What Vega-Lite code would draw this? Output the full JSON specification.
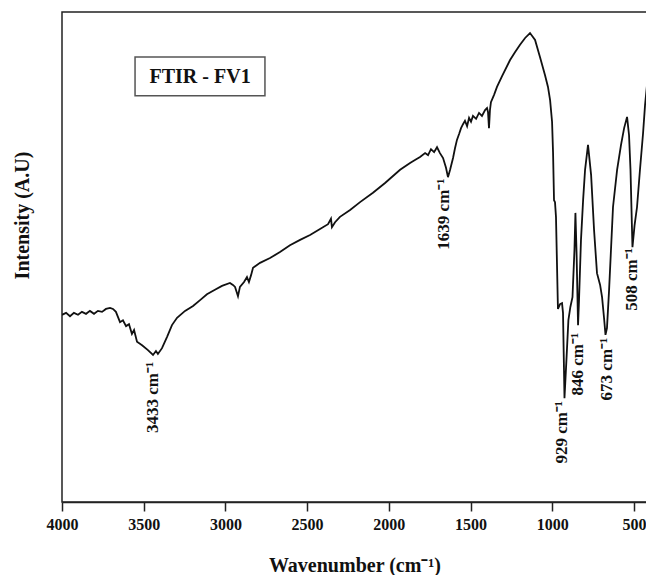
{
  "$schema": "https://vega.github.io/schema/vega-lite/v6.json",
  "autosize": {"type": "none"},
  "padding": {"left": 62, "top": 12, "right": 0, "bottom": 73},
  "width": 585,
  "height": 490,
  "config": {
    "font": "Liberation Serif",
    "view": {"stroke": "#222222", "strokeWidth": 1.5},
    "background": "white"
  },
  "datasets": {
    "spectrum": [
      {"wn": 4000, "v": 38.2}, {"wn": 3975, "v": 38.6}, {"wn": 3951, "v": 37.9}, {"wn": 3927, "v": 38.6},
      {"wn": 3902, "v": 38.2}, {"wn": 3878, "v": 38.8}, {"wn": 3853, "v": 38.4}, {"wn": 3829, "v": 39.0},
      {"wn": 3804, "v": 38.4}, {"wn": 3780, "v": 39.0}, {"wn": 3755, "v": 38.8}, {"wn": 3731, "v": 39.4},
      {"wn": 3706, "v": 39.6}, {"wn": 3688, "v": 39.4}, {"wn": 3670, "v": 38.8}, {"wn": 3645, "v": 36.7},
      {"wn": 3627, "v": 37.1}, {"wn": 3608, "v": 35.9}, {"wn": 3590, "v": 36.3}, {"wn": 3572, "v": 34.3},
      {"wn": 3559, "v": 35.1}, {"wn": 3541, "v": 32.7}, {"wn": 3510, "v": 32.0}, {"wn": 3474, "v": 31.0},
      {"wn": 3443, "v": 30.0}, {"wn": 3425, "v": 30.8}, {"wn": 3413, "v": 30.2}, {"wn": 3388, "v": 31.4},
      {"wn": 3357, "v": 33.7}, {"wn": 3327, "v": 36.1}, {"wn": 3296, "v": 37.6}, {"wn": 3247, "v": 39.0},
      {"wn": 3198, "v": 40.0}, {"wn": 3155, "v": 41.2}, {"wn": 3113, "v": 42.4}, {"wn": 3064, "v": 43.3},
      {"wn": 3021, "v": 44.1}, {"wn": 2972, "v": 44.7}, {"wn": 2954, "v": 44.3}, {"wn": 2941, "v": 43.9},
      {"wn": 2923, "v": 42.0}, {"wn": 2911, "v": 43.9}, {"wn": 2886, "v": 44.9}, {"wn": 2868, "v": 45.9},
      {"wn": 2856, "v": 44.9}, {"wn": 2843, "v": 46.3}, {"wn": 2831, "v": 47.8}, {"wn": 2788, "v": 48.8},
      {"wn": 2727, "v": 49.8}, {"wn": 2666, "v": 51.0}, {"wn": 2605, "v": 52.4}, {"wn": 2543, "v": 53.5},
      {"wn": 2482, "v": 54.5}, {"wn": 2421, "v": 55.7}, {"wn": 2372, "v": 56.7}, {"wn": 2354, "v": 57.8},
      {"wn": 2348, "v": 56.1}, {"wn": 2329, "v": 57.1}, {"wn": 2299, "v": 58.2}, {"wn": 2237, "v": 59.6},
      {"wn": 2176, "v": 61.2}, {"wn": 2097, "v": 63.1}, {"wn": 2023, "v": 65.1}, {"wn": 1931, "v": 67.8},
      {"wn": 1870, "v": 69.2}, {"wn": 1840, "v": 69.8}, {"wn": 1809, "v": 70.4}, {"wn": 1778, "v": 71.2},
      {"wn": 1760, "v": 70.8}, {"wn": 1742, "v": 72.0}, {"wn": 1723, "v": 71.4}, {"wn": 1705, "v": 72.4},
      {"wn": 1687, "v": 71.2}, {"wn": 1668, "v": 70.2}, {"wn": 1650, "v": 68.2}, {"wn": 1638, "v": 66.3},
      {"wn": 1625, "v": 67.8}, {"wn": 1607, "v": 70.2}, {"wn": 1595, "v": 72.2}, {"wn": 1583, "v": 73.9},
      {"wn": 1570, "v": 75.1}, {"wn": 1558, "v": 76.3}, {"wn": 1546, "v": 77.1}, {"wn": 1534, "v": 77.8},
      {"wn": 1521, "v": 76.7}, {"wn": 1509, "v": 78.4}, {"wn": 1497, "v": 77.6}, {"wn": 1485, "v": 78.8},
      {"wn": 1466, "v": 78.2}, {"wn": 1448, "v": 79.4}, {"wn": 1430, "v": 78.8}, {"wn": 1411, "v": 80.0},
      {"wn": 1399, "v": 80.4}, {"wn": 1393, "v": 79.6}, {"wn": 1387, "v": 76.3}, {"wn": 1381, "v": 80.0},
      {"wn": 1375, "v": 81.6}, {"wn": 1356, "v": 83.1}, {"wn": 1338, "v": 84.7}, {"wn": 1307, "v": 86.9},
      {"wn": 1258, "v": 90.2}, {"wn": 1228, "v": 91.8}, {"wn": 1197, "v": 93.3}, {"wn": 1166, "v": 94.7},
      {"wn": 1136, "v": 95.7}, {"wn": 1105, "v": 94.3}, {"wn": 1075, "v": 90.8}, {"wn": 1044, "v": 87.1},
      {"wn": 1026, "v": 84.7}, {"wn": 1013, "v": 82.0}, {"wn": 1001, "v": 77.6}, {"wn": 995, "v": 71.4},
      {"wn": 989, "v": 61.6}, {"wn": 983, "v": 61.2}, {"wn": 977, "v": 58.2}, {"wn": 965, "v": 39.4},
      {"wn": 952, "v": 40.4}, {"wn": 940, "v": 40.6}, {"wn": 934, "v": 38.6}, {"wn": 925, "v": 21.2},
      {"wn": 913, "v": 29.0}, {"wn": 901, "v": 37.1}, {"wn": 889, "v": 39.8}, {"wn": 876, "v": 41.8},
      {"wn": 864, "v": 51.4}, {"wn": 858, "v": 59.0}, {"wn": 851, "v": 50.8}, {"wn": 842, "v": 36.1},
      {"wn": 836, "v": 41.2}, {"wn": 824, "v": 53.5}, {"wn": 811, "v": 61.6}, {"wn": 799, "v": 67.8},
      {"wn": 781, "v": 72.9}, {"wn": 762, "v": 66.7}, {"wn": 744, "v": 55.5}, {"wn": 726, "v": 46.7},
      {"wn": 707, "v": 44.3}, {"wn": 695, "v": 41.8}, {"wn": 683, "v": 37.6}, {"wn": 674, "v": 34.1},
      {"wn": 665, "v": 35.5}, {"wn": 652, "v": 43.3}, {"wn": 628, "v": 60.2}, {"wn": 603, "v": 67.8},
      {"wn": 579, "v": 72.9}, {"wn": 560, "v": 76.3}, {"wn": 542, "v": 78.6}, {"wn": 530, "v": 74.9},
      {"wn": 521, "v": 67.8}, {"wn": 509, "v": 52.0}, {"wn": 496, "v": 56.5}, {"wn": 481, "v": 60.2},
      {"wn": 463, "v": 67.8}, {"wn": 444, "v": 75.3}, {"wn": 432, "v": 81.0}, {"wn": 420, "v": 85.1}
    ],
    "labels": [
      {"wn": 3443, "v": 28.6, "label": "3433 cm⁻¹"},
      {"wn": 1660, "v": 66.0, "label": "1639 cm⁻¹"},
      {"wn": 940, "v": 20.6, "label": "929 cm⁻¹"},
      {"wn": 842, "v": 34.5, "label": "846 cm⁻¹"},
      {"wn": 665, "v": 33.5, "label": "673 cm⁻¹"},
      {"wn": 512, "v": 51.8, "label": "508 cm⁻¹"}
    ],
    "box": [
      {"x1": 3553, "x2": 2758, "y1": 82.9, "y2": 90.8, "xc": 3155, "yc": 86.8, "label": "FTIR - FV1"}
    ]
  },
  "layer": [
    {
      "data": {"name": "spectrum"},
      "mark": {"type": "line", "color": "#111111", "strokeWidth": 1.8, "clip": true},
      "encoding": {
        "x": {
          "field": "wn", "type": "quantitative",
          "scale": {"domain": [4000, 420], "nice": false, "zero": false},
          "axis": {
            "values": [4000, 3500, 3000, 2500, 2000, 1500, 1000, 500],
            "format": "d",
            "title": "Wavenumber (cm⁻¹)",
            "domain": true, "domainColor": "#222222", "domainWidth": 1.5,
            "ticks": true, "tickColor": "#222222", "tickWidth": 1.5, "tickSize": 9,
            "grid": false,
            "labelFont": "Liberation Serif", "labelFontSize": 16, "labelFontWeight": "bold", "labelColor": "#111111",
            "labelPadding": 5, "labelFlush": false, "labelOverlap": false,
            "titleFont": "Liberation Serif", "titleFontSize": 20, "titleFontWeight": "bold", "titleColor": "#111111",
            "titleBaseline": "alphabetic", "titleY": 69
          }
        },
        "y": {
          "field": "v", "type": "quantitative",
          "scale": {"domain": [0, 100], "nice": false, "zero": false},
          "axis": {
            "title": "Intensity (A.U)",
            "domain": false, "ticks": false, "labels": false, "grid": false,
            "titleFont": "Liberation Serif", "titleFontSize": 20, "titleFontWeight": "bold", "titleColor": "#111111",
            "titleX": -40, "titleY": 203, "titleBaseline": "middle"
          }
        }
      }
    },
    {
      "data": {"name": "box"},
      "mark": {"type": "rect", "fill": "white", "stroke": "#555555", "strokeWidth": 1.5},
      "encoding": {
        "x": {"field": "x1", "type": "quantitative"},
        "x2": {"field": "x2"},
        "y": {"field": "y1", "type": "quantitative"},
        "y2": {"field": "y2"}
      }
    },
    {
      "data": {"name": "box"},
      "mark": {"type": "text", "font": "Liberation Serif", "fontSize": 20, "fontWeight": "bold", "color": "#111111", "align": "center", "baseline": "middle"},
      "encoding": {
        "x": {"field": "xc", "type": "quantitative"},
        "y": {"field": "yc", "type": "quantitative"},
        "text": {"field": "label"}
      }
    },
    {
      "data": {"name": "labels"},
      "mark": {"type": "text", "font": "Liberation Serif", "fontSize": 17, "fontWeight": "bold", "color": "#111111", "angle": 270, "align": "right", "baseline": "middle"},
      "encoding": {
        "x": {"field": "wn", "type": "quantitative"},
        "y": {"field": "v", "type": "quantitative"},
        "text": {"field": "label"}
      }
    }
  ]
}
